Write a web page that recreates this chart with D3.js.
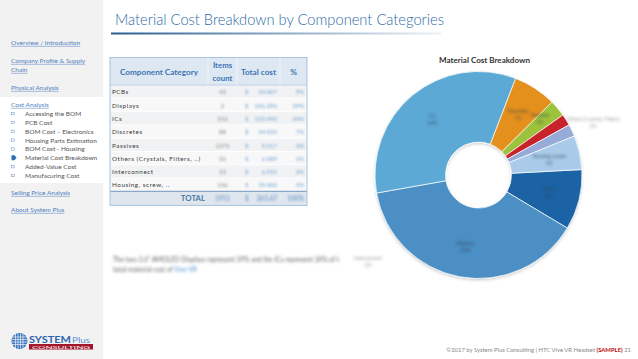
<!DOCTYPE html>
<html><head><meta charset="utf-8">
<script src="https://cdn.jsdelivr.net/npm/d3@7/dist/d3.min.js"></script>
<style>
html,body{margin:0;padding:0;background:#fff;}
svg{display:block;font-family:Lato,"Open Sans",sans-serif;}
</style></head>
<body><svg id="c" width="638" height="359"></svg>
<script>
// ---- data ----
const categories = ["PCBs","Displays","ICs","Discretes","Passives","Others (Crystals, Filters, ..)","Interconnect","Housing, screw, .."];
const pieLabels = ["PCBs","Displays","ICs","Discretes","Passives","Others (Crystals, Filters)","Interconnect","Housing, screw"];
const itemsCount = [43, 2, 252, 88, 1375, 32, 23, 136];
const totalCost = [34.407, 141.290, 122.990, 24.525, 9.517, 6.589, 6.955, 19.400];
const sliceColors = ["#1c63a5","#4b8fc4","#5ba9d6","#e4901e","#9cc33b","#c8202c","#96abd7","#a9cbe9"];
const headers = ["Component Category","Items count","Total cost","%"];
const navSub = ["Accessing the BOM","PCB Cost","BOM Cost \u2013 Electronics","Housing Parts Estimation","BOM Cost - Housing","Material Cost Breakdown","Added-Value Cost","Manufacuring Cost"];

const svg = d3.select("#c");
const defs = svg.append("defs");
defs.append("filter").attr("id","blur").attr("x","-20%").attr("y","-50%").attr("width","140%").attr("height","200%")
  .append("feGaussianBlur").attr("stdDeviation",1.1);
defs.append("filter").attr("id","blur2").attr("x","-20%").attr("y","-50%").attr("width","140%").attr("height","200%")
  .append("feGaussianBlur").attr("stdDeviation",1.6);
defs.append("filter").attr("id","blur3").attr("x","-20%").attr("y","-50%").attr("width","140%").attr("height","200%")
  .append("feGaussianBlur").attr("stdDeviation",1.4);
const sh = defs.append("filter").attr("id","shadow").attr("x","-20%").attr("y","-20%").attr("width","140%").attr("height","140%");
sh.append("feDropShadow").attr("dx",0).attr("dy",1.5).attr("stdDeviation",1.5).attr("flood-color","#000").attr("flood-opacity",0.18);
const lg = defs.append("linearGradient").attr("id","ul").attr("x1","0").attr("x2","1");
lg.append("stop").attr("offset","0").attr("stop-color","#2a5d8f");
lg.append("stop").attr("offset","0.45").attr("stop-color","#7f9fbf");
lg.append("stop").attr("offset","1").attr("stop-color","#eef1f5");

// ---- sidebar ----
svg.append("rect").attr("x",0).attr("y",0).attr("width",103).attr("height",359).attr("fill","#f2f2f2");
svg.append("rect").attr("x",0).attr("y",97).attr("width",103).attr("height",86).attr("fill","#ffffff");
const navColor = "#4f7fbf";
const nav = svg.append("g").attr("font-size",6.5);
function link(txt, x, y){
  const t = nav.append("text").attr("x",x).attr("y",y).attr("fill",navColor).text(txt);
  const w = t.node().getComputedTextLength();
  nav.append("line").attr("x1",x).attr("x2",x+w).attr("y1",y+1.3).attr("y2",y+1.3).attr("stroke",navColor).attr("stroke-width",0.5);
}
link("Overview / Introduction",11,45);
link("Company Profile & Supply",11,63);
link("Chain",11,72);
link("Physical Analysis",11,90);
link("Cost Analysis",11,107);
navSub.forEach((s,i)=>{
  const y = 116 + i*8.85;
  if (i===5) {
    nav.append("path").attr("d",`M11.5,${y-5} L14.5,${y-5} L16.5,${y-2.5} L14.5,${y} L11.5,${y} Z`).attr("fill","#2f6db5");
  } else {
    nav.append("rect").attr("x",11.6).attr("y",y-3.6).attr("width",2.6).attr("height",2.4).attr("fill","none").attr("stroke","#6a8fc0").attr("stroke-width",0.5);
  }
  nav.append("text").attr("x",25).attr("y",y).attr("fill","#555").text(s);
});
link("Selling Price Analysis",11,195);
link("About System Plus",11,212);

// logo
const logo = svg.append("g");
logo.append("circle").attr("cx",19.5).attr("cy",341).attr("r",8).attr("fill","#3d78c0");
[-4,-1.5,1,3.5].forEach(d=>{
  logo.append("line").attr("x1",19.5+d).attr("x2",19.5+d).attr("y1",333.5).attr("y2",348.5).attr("stroke","#f2f2f2").attr("stroke-width",0.7);
  logo.append("line").attr("y1",341+d).attr("y2",341+d).attr("x1",12).attr("x2",27).attr("stroke","#f2f2f2").attr("stroke-width",0.7);
});
logo.append("text").attr("x",29).attr("y",343).attr("font-size",9.5).attr("font-weight","bold").attr("fill","#2d64ad")
  .attr("textLength",42).attr("lengthAdjust","spacingAndGlyphs").text("SYSTEM");
logo.append("text").attr("x",72).attr("y",343).attr("font-size",7.5).attr("fill","#5b8fd0")
  .attr("textLength",18).attr("lengthAdjust","spacingAndGlyphs").text("Plus");
logo.append("rect").attr("x",29).attr("y",344).attr("width",64).attr("height",5.5).attr("fill","#a3172a");
logo.append("text").attr("x",61).attr("y",348.6).attr("text-anchor","middle").attr("font-size",4.6).attr("fill","#fff")
  .attr("textLength",58).attr("lengthAdjust","spacingAndGlyphs").text("CONSULTING");

// ---- title ----
svg.append("text").attr("x",115).attr("y",25).attr("font-size",15).attr("font-weight",300).attr("fill","#2e6aa6")
  .attr("textLength",329).attr("lengthAdjust","spacingAndGlyphs").text("Material Cost Breakdown by Component Categories");
svg.append("rect").attr("x",111).attr("y",32.5).attr("width",330).attr("height",2).attr("fill","url(#ul)");

// ---- table ----
const tx = [110, 208, 237, 280, 307];
const headTop = 57.5, headBot = 85, rowH = 13.3;
const tbl = svg.append("g");
tbl.append("rect").attr("x",tx[0]).attr("y",headTop).attr("width",tx[4]-tx[0]).attr("height",headBot-headTop).attr("fill","#dde8f3");
categories.forEach((c,i)=>{
  const y0 = headBot + i*rowH;
  tbl.append("rect").attr("x",tx[0]).attr("y",y0).attr("width",tx[4]-tx[0]).attr("height",rowH)
    .attr("fill", i%2===0 ? "#f1f2f3" : "#f8f8f8");
  tbl.append("line").attr("x1",tx[0]).attr("x2",tx[4]).attr("y1",y0).attr("y2",y0).attr("stroke","#fff").attr("stroke-width",0.8);
});
const totTop = headBot + categories.length*rowH;
tbl.append("rect").attr("x",tx[0]).attr("y",totTop).attr("width",tx[4]-tx[0]).attr("height",14).attr("fill","#dfe6ee");
tbl.append("line").attr("x1",tx[0]).attr("x2",tx[4]).attr("y1",totTop).attr("y2",totTop).attr("stroke","#8aa6c8").attr("stroke-width",1.2);
tbl.append("line").attr("x1",tx[0]).attr("x2",tx[4]).attr("y1",headBot).attr("y2",headBot).attr("stroke","#a9c2de").attr("stroke-width",0.8);
tbl.append("rect").attr("x",tx[0]).attr("y",headTop).attr("width",tx[4]-tx[0]).attr("height",totTop+14-headTop)
  .attr("fill","none").attr("stroke","#a9c2de").attr("stroke-width",1);
[1,2,3].forEach(k=>{
  tbl.append("line").attr("x1",tx[k]).attr("x2",tx[k]).attr("y1",headTop).attr("y2",headBot).attr("stroke","#fff").attr("stroke-width",0.6);
});
const hc = "#3c74b3";
const hd = tbl.append("g").attr("font-weight","bold").attr("fill",hc).attr("text-anchor","middle");
hd.append("text").attr("x",(tx[0]+tx[1])/2).attr("y",75).attr("font-size",8.2).text(headers[0]);
hd.append("text").attr("x",(tx[1]+tx[2])/2).attr("y",68).attr("font-size",7.8).text("Items");
hd.append("text").attr("x",(tx[1]+tx[2])/2).attr("y",81).attr("font-size",7.8).text("count");
hd.append("text").attr("x",(tx[2]+tx[3])/2).attr("y",75).attr("font-size",8.2).text(headers[2]);
hd.append("text").attr("x",(tx[3]+tx[4])/2).attr("y",75).attr("font-size",8.2).text(headers[3]);
const sumCost = d3.sum(totalCost);
const fmt = d3.format(".3f");
categories.forEach((c,i)=>{
  const yb = headBot + i*rowH + 9.3;
  tbl.append("text").attr("x",112).attr("y",yb).attr("font-size",6.3).attr("fill","#3a3a3a").attr("letter-spacing",0.55).text(c);
  tbl.append("text").attr("x",(tx[1]+tx[2])/2).attr("y",yb).attr("text-anchor","middle").attr("font-size",6).attr("fill","#888").attr("filter","url(#blur)").text(itemsCount[i]);
  tbl.append("text").attr("x",tx[2]+8).attr("y",yb).attr("font-size",6).attr("fill","#6d9fd4").attr("filter","url(#blur)").text("$");
  tbl.append("text").attr("x",tx[3]-3).attr("y",yb).attr("text-anchor","end").attr("font-size",6).attr("fill","#6d9fd4").attr("filter","url(#blur)").text(fmt(totalCost[i]));
  tbl.append("text").attr("x",tx[4]-3).attr("y",yb).attr("text-anchor","end").attr("font-size",6).attr("fill","#6d9fd4").attr("filter","url(#blur)").text(Math.round(totalCost[i]/sumCost*100)+"%");
});
const yT = totTop + 10;
tbl.append("text").attr("x",tx[1]-3).attr("y",yT).attr("text-anchor","end").attr("font-size",7.8).attr("font-weight","bold").attr("fill","#4a76a8").text("TOTAL");
tbl.append("text").attr("x",(tx[1]+tx[2])/2).attr("y",yT).attr("text-anchor","middle").attr("font-size",6.5).attr("font-weight","bold").attr("fill","#7fa3cc").attr("filter","url(#blur)").text(d3.sum(itemsCount));
tbl.append("text").attr("x",tx[2]+8).attr("y",yT).attr("font-size",6.5).attr("font-weight","bold").attr("fill","#7fa3cc").attr("filter","url(#blur)").text("$");
tbl.append("text").attr("x",tx[3]-3).attr("y",yT).attr("text-anchor","end").attr("font-size",6.5).attr("font-weight","bold").attr("fill","#7fa3cc").attr("filter","url(#blur)").text(d3.format(".2f")(sumCost));
tbl.append("text").attr("x",tx[4]-3).attr("y",yT).attr("text-anchor","end").attr("font-size",6.5).attr("font-weight","bold").attr("fill","#7fa3cc").attr("filter","url(#blur)").text("100%");

// ---- paragraph (blurred in reference) ----
const para = svg.append("g").attr("font-size",6.6).attr("fill","#666").attr("filter","url(#blur2)");
para.append("text").attr("x",113).attr("y",262).text("The two 3.6\u201D AMOLED Displays  represent 39% and the ICs represent 34% of t");
const p2 = para.append("text").attr("x",113).attr("y",272);
p2.append("tspan").text("total material cost of ");
p2.append("tspan").attr("fill","#4f8fd6").text("Vive VR");

// ---- pie ----
const cx = 478.5, cy = 175, R = 103.5, r0 = 33;
const startA = 87 * Math.PI/180;
const pie = d3.pie().sort(null).startAngle(startA).endAngle(startA + 2*Math.PI).value(d=>d);
const arcs = pie(totalCost);
const arc = d3.arc().innerRadius(r0).outerRadius(R);
const pg = svg.append("g").attr("transform",`translate(${cx},${cy})`);
const color = d3.scaleOrdinal().domain(categories).range(sliceColors);
pg.append("g").attr("filter","url(#shadow)").selectAll("path").data(arcs).join("path")
  .attr("d",arc).attr("fill",(d,i)=>color(categories[i])).attr("stroke","#fff").attr("stroke-width",0.7);
svg.append("text").attr("x",439).attr("y",63).attr("font-size",7.4).attr("font-weight","bold").attr("fill","#333")
  .attr("textLength",91).attr("lengthAdjust","spacingAndGlyphs").text("Material Cost Breakdown");
// slice labels (blurred in reference)
const lab = svg.append("g").attr("font-size",5).attr("fill","#2c3e50").attr("text-anchor","middle").attr("filter","url(#blur3)").attr("opacity",0.8);
const labArc = d3.arc().innerRadius(R*0.7).outerRadius(R*0.7);
arcs.forEach((a,i)=>{
  let [x,y] = labArc.centroid(a);
  x += cx; y += cy;
  const pct = Math.round(a.value/sumCost*100)+"%";
  if (i===5 || i===6) {
    const lx = i===5 ? 593 : 368, ly = i===5 ? 121 : 260;
    lab.append("text").attr("x",lx).attr("y",ly).attr("fill","#888").text(pieLabels[i]);
    lab.append("text").attr("x",lx).attr("y",ly+7).attr("fill","#888").text(pct);
    return;
  }
  if (i===4) { x = 540; y = 118; }
  lab.append("text").attr("x",x).attr("y",y-1).text(pieLabels[i]);
  lab.append("text").attr("x",x).attr("y",y+6).text(pct);
});

// ---- footer ----
const ft = svg.append("text").attr("x",631).attr("y",352).attr("text-anchor","end").attr("font-size",5.9).attr("fill","#888");
ft.append("tspan").text("\u00A92017 by System Plus Consulting | HTC Vive VR Headset ");
ft.append("tspan").attr("fill","#c00000").attr("font-weight","bold").text("(SAMPLE)");
ft.append("tspan").text("     21");
</script></body></html>
